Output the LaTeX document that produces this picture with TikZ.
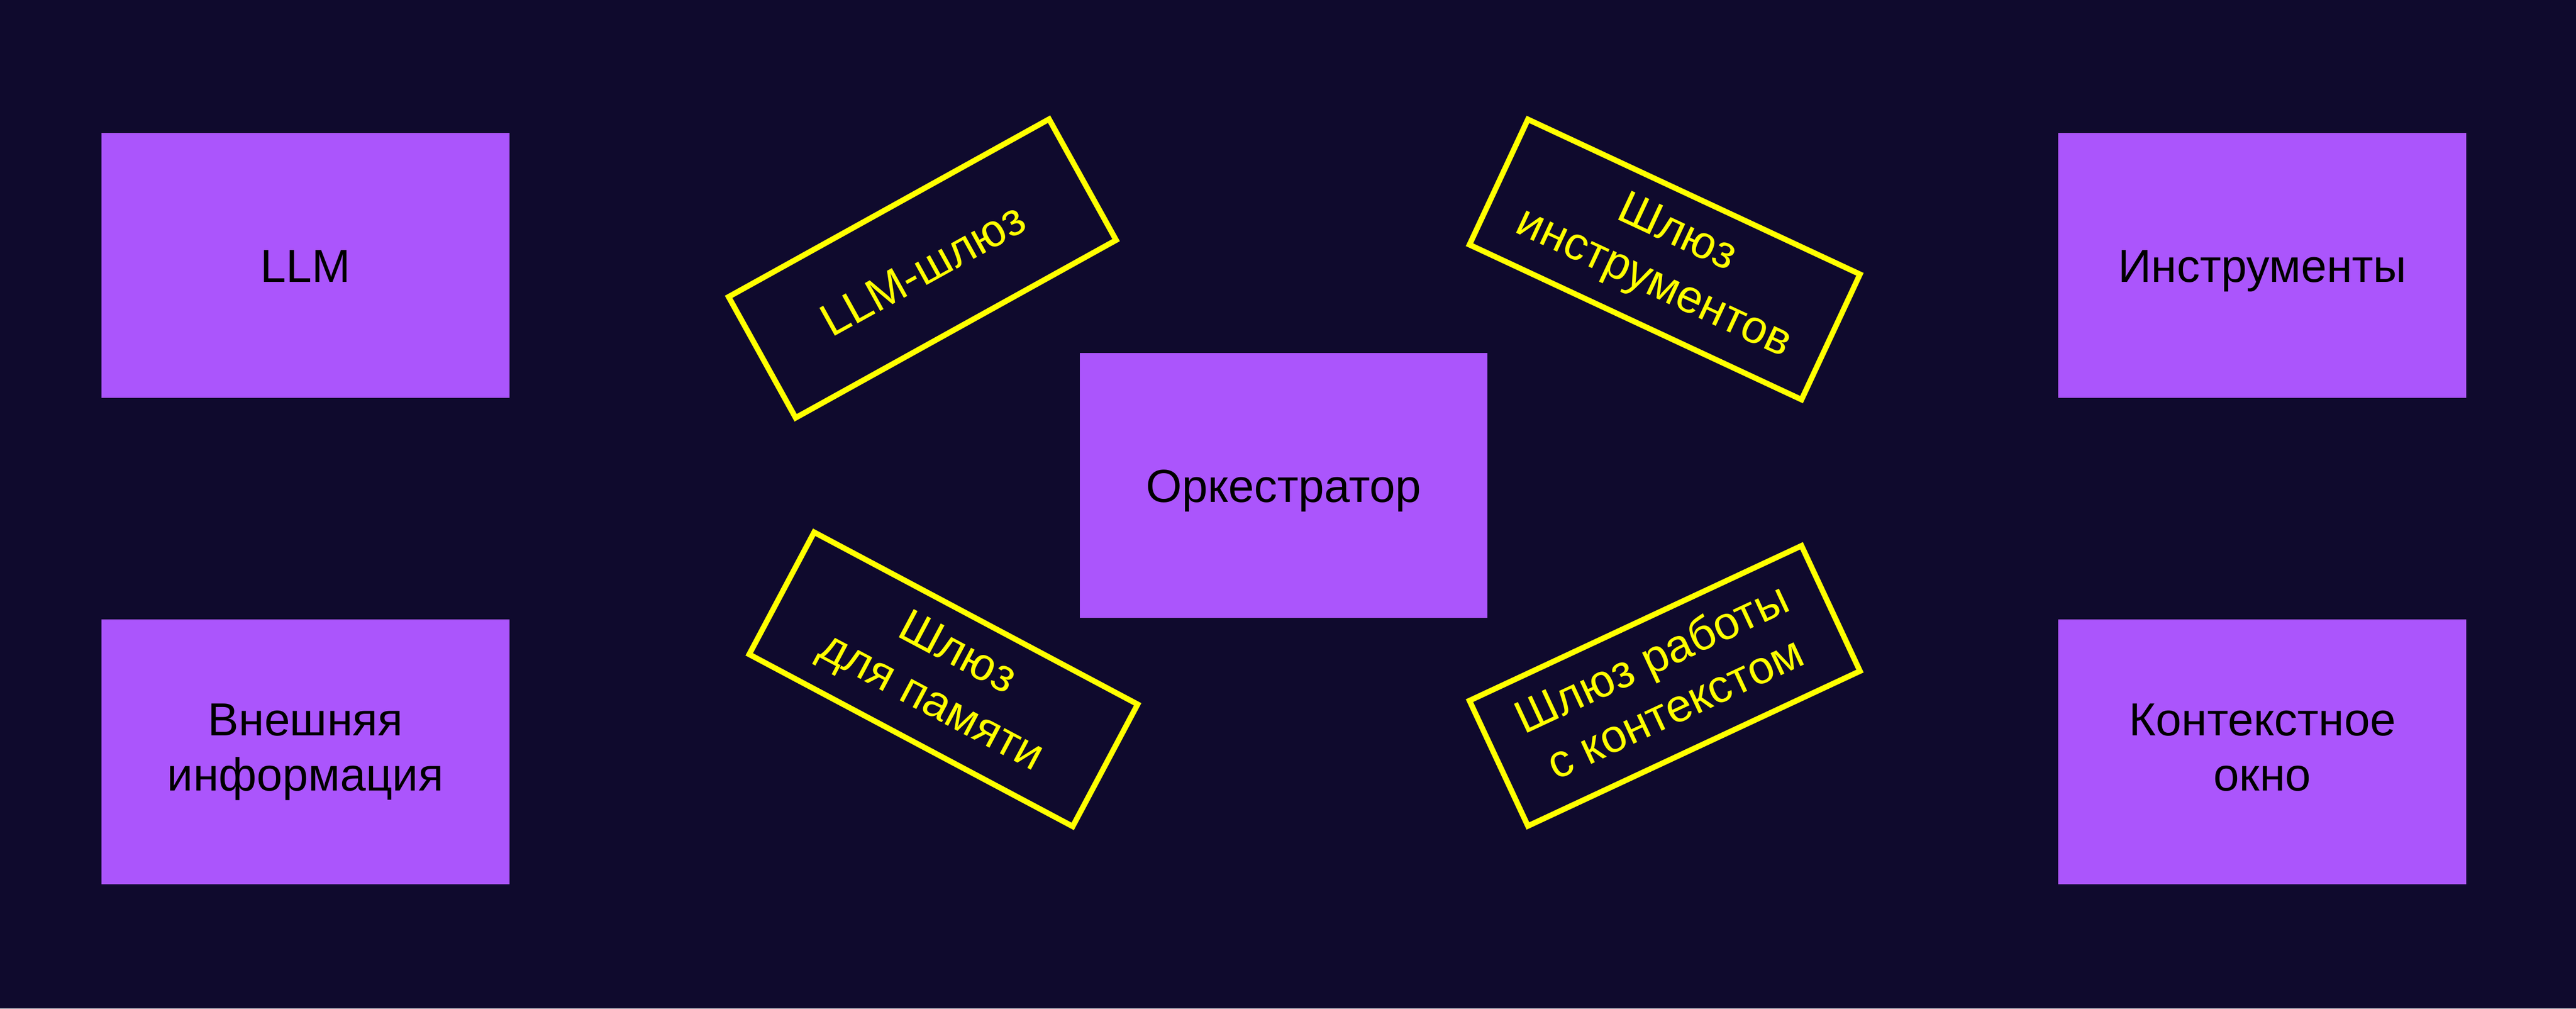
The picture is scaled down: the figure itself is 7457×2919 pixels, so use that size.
\documentclass[tikz,border=0pt]{standalone}
\usepackage{fontspec}
\setmainfont{Liberation Sans}
\definecolor{bgc}{RGB}{15,10,45}
\definecolor{boxc}{RGB}{171,85,252}
\definecolor{gatec}{RGB}{255,255,0}
\newcommand\mytopstrut{\rule{0pt}{0.93em}}
\newcommand\mybotstrut{\rule[-0.2em]{0pt}{0.2em}}
\begin{document}
\begin{tikzpicture}[x=0.01cm,y=-0.01cm,
  txt/.style={align=center, font=\fontsize{38.1}{45.3}\selectfont, inner sep=0pt,
    execute at begin node=\mytopstrut, execute at end node=\mybotstrut},
  mainbox/.style={txt, rectangle, fill=boxc, draw=none, minimum width=11.8cm, minimum height=7.67cm,
    text=black},
  gatebox/.style={txt, rectangle, draw=gatec, line width=0.16cm, fill=none, minimum width=10.6cm,
    minimum height=4.0cm, text=gatec}]
\path[fill=bgc] (0,0) rectangle (7457,2919);
\node[mainbox] (llm) at (884,768) {LLM};
\node[mainbox] (tools) at (6549,768) {Инструменты};
\node[mainbox] (ext) at (884,2176) {Внешняя\\информация};
\node[mainbox] (ctx) at (6549,2176) {Контекстное\\окно};
\node[mainbox] (orch) at (3716,1405) {Оркестратор};
\node[gatebox, rotate=29] (g1) at (2670,777) {LLM-шлюз};
\node[gatebox, rotate=-25] (g2) at (4819,751) {Шлюз\\инструментов};
\node[gatebox, rotate=-28] (g3) at (2731,1966) {Шлюз\\для памяти};
\node[gatebox, rotate=25] (g4) at (4819,1985) {Шлюз работы\\с контекстом};
\end{tikzpicture}
\end{document}
